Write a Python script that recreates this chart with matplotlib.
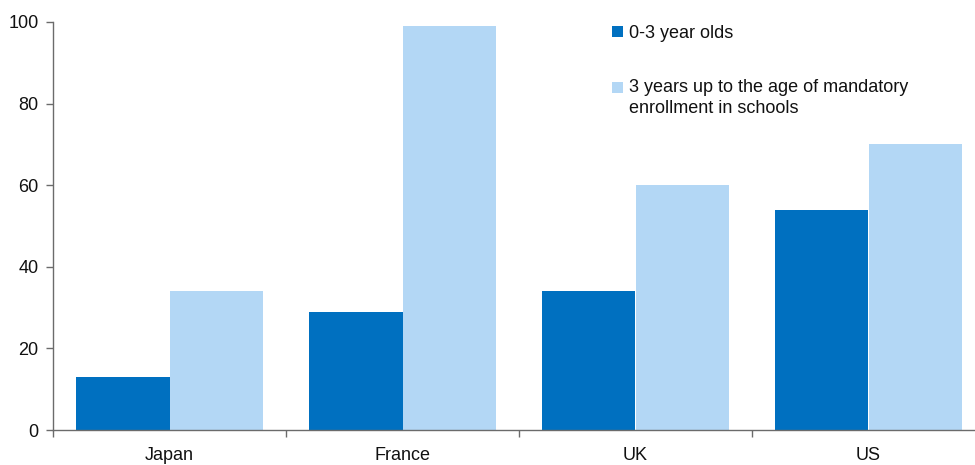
import numpy as np
import matplotlib.pyplot as plt
from matplotlib.container import BarContainer
from matplotlib.legend_handler import HandlerPatch, update_from_first_child
from matplotlib.patches import Rectangle

plt.rcParams['font.family'] = ['Liberation Sans', 'DejaVu Sans']

countries = ['Japan', 'France', 'UK', 'US']
under3 = [13, 29, 34, 54]
pre_school = [34, 99, 60, 70]
labels = ['0-3 year olds', '3 years up to the age of mandatory\nenrollment in schools']

dark = '#0070C0'
light = '#B3D7F5'
axis_col = '#6b6b6b'
fs = 13
line_gap = 22 * 72 / 100  # points between lines of a wrapped label


def swatch_on_first_line(legend, orig_handle, xdescent, ydescent, width, height, fontsize):
    # the swatch is centred on the label block by default; lift it to line one
    n = orig_handle.get_label().count('\n')
    shift = n * 0.5 * line_gap
    return Rectangle((-xdescent, -ydescent + shift), width, height)


fig = plt.figure(figsize=(9.75, 4.65), dpi=100)
ax = fig.add_axes([53 / 975, 35 / 465, 922 / 975, 408 / 465])

x = np.arange(len(countries))
w = 0.4
b1 = ax.bar(x - w / 2, under3, w, color=dark, label=labels[0], linewidth=0)
b2 = ax.bar(x + w / 2, pre_school, w, color=light, label=labels[1], linewidth=0)

ax.set_ylim(0, 100)
ax.set_yticks(np.arange(0, 101, 20))
ax.set_xlim(-0.5, -0.5 + 922 / 233)
ax.set_xticks(x)
ax.set_xticklabels(countries)
ax.set_xticks(np.arange(len(countries)) - 0.5, minor=True)

for s in ['top', 'right']:
    ax.spines[s].set_visible(False)
for s in ['left', 'bottom']:
    ax.spines[s].set_color(axis_col)
    ax.spines[s].set_linewidth(1.0)

ax.tick_params(axis='y', direction='out', length=5, width=1, color=axis_col,
               pad=5.5, labelsize=fs, labelcolor='#111111')
ax.tick_params(axis='x', which='major', length=0, pad=12, labelsize=fs,
               labelcolor='#111111')
ax.tick_params(axis='x', which='minor', direction='out', length=5, width=1,
               color=axis_col)

hm = {BarContainer: HandlerPatch(patch_func=swatch_on_first_line,
                                 update_func=update_from_first_child)}
leg = ax.legend(handles=[b1, b2], handler_map=hm, loc='upper left',
                bbox_to_anchor=(612 / 975, 1 - 25 / 465), bbox_transform=fig.transFigure,
                frameon=False, fontsize=fs, handlelength=0.62, handleheight=0.62,
                handletextpad=0.3, labelspacing=2.07, borderpad=0, borderaxespad=0)
for t in leg.get_texts():
    t.set_color('#111111')
    t.set_linespacing(1.3)

fig.savefig('out.png', dpi=100)
